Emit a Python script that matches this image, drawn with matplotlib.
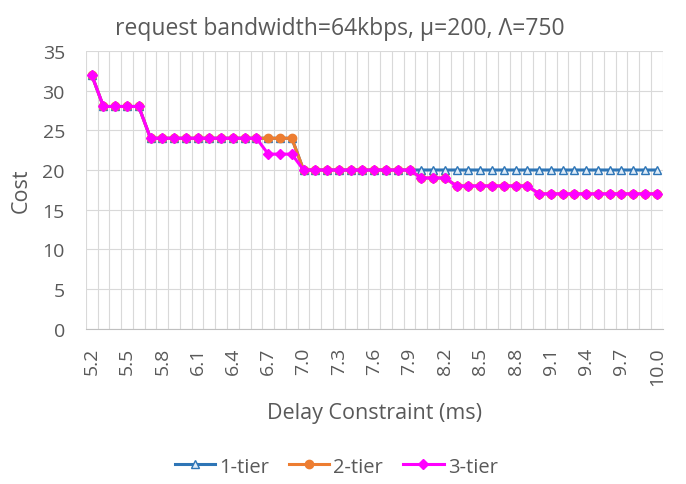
import matplotlib
matplotlib.use('Agg')
import matplotlib.pyplot as plt
import numpy as np

# categories: delay constraint (ms)
delay = ['5.2', '5.3', '5.4', '5.5', '5.6', '5.7', '5.8', '5.9', '6.0', '6.1',
         '6.2', '6.3', '6.4', '6.5', '6.6', '6.7', '6.8', '6.9', '7.0', '7.1',
         '7.2', '7.3', '7.4', '7.5', '7.6', '7.7', '7.8', '7.9', '8.0', '8.1',
         '8.2', '8.3', '8.4', '8.5', '8.6', '8.7', '8.8', '8.9', '9.0', '9.1',
         '9.2', '9.3', '9.4', '9.5', '9.6', '9.7', '9.8', '9.9', '10.0']

tier1 = [32, 28, 28, 28, 28, 24, 24, 24, 24, 24,
         24, 24, 24, 24, 24, 24, 24, 24, 20, 20,
         20, 20, 20, 20, 20, 20, 20, 20, 20, 20,
         20, 20, 20, 20, 20, 20, 20, 20, 20, 20,
         20, 20, 20, 20, 20, 20, 20, 20, 20]
tier2 = [32, 28, 28, 28, 28, 24, 24, 24, 24, 24,
         24, 24, 24, 24, 24, 24, 24, 24, 20, 20,
         20, 20, 20, 20, 20, 20, 20, 20, 19, 19,
         19, 18, 18, 18, 18, 18, 18, 18, 17, 17,
         17, 17, 17, 17, 17, 17, 17, 17, 17]
tier3 = [32, 28, 28, 28, 28, 24, 24, 24, 24, 24,
         24, 24, 24, 24, 24, 22, 22, 22, 20, 20,
         20, 20, 20, 20, 20, 20, 20, 20, 19, 19,
         19, 18, 18, 18, 18, 18, 18, 18, 17, 17,
         17, 17, 17, 17, 17, 17, 17, 17, 17]

yticks = [0, 5, 10, 15, 20, 25, 30, 35]

txt = '#595959'
plt.rcParams['font.family'] = ['Open Sans', 'DejaVu Sans']

fig = plt.figure(figsize=(6.86, 4.85), dpi=100)
ax = fig.add_axes([0.125, 0.32, 0.841, 0.573])

x = np.arange(len(delay))
ax.plot(x, tier1, '-', color='#2E75B6', lw=2.2, marker='^', ms=6,
        mfc='#DEEBF7', mec='#2E75B6', mew=1, label='1-tier')
ax.plot(x, tier2, '-', color='#ED7D31', lw=2.2, marker='o', ms=6,
        mfc='#ED7D31', mec='#ED7D31', label='2-tier')
ax.plot(x, tier3, '-', color='#FF00FF', lw=2.2, marker='D', ms=5.5,
        mfc='#FF00FF', mec='#FF00FF', label='3-tier')

ax.set_xlim(-0.5, len(delay) - 0.5)
ax.set_ylim(0, 35)
ax.set_yticks(yticks)
ax.set_xticks(x[::3])
ax.set_xticklabels(delay[::3], rotation=90)
ax.set_xticks(np.arange(-0.5, len(delay), 1), minor=True)
ax.tick_params(which='both', length=0, colors=txt, labelsize=14)
ax.tick_params(axis='x', pad=13)
ax.tick_params(axis='y', pad=15)
ax.grid(which='minor', axis='x', color='#D9D9D9', lw=0.8)
ax.grid(which='major', axis='y', color='#D9D9D9', lw=0.8)
ax.set_axisbelow(True)
for s in ['top', 'right', 'left']:
    ax.spines[s].set_visible(False)
ax.spines['bottom'].set_color('#BFBFBF')

ax.set_xlabel('Delay Constraint (ms)', fontsize=15.5, color=txt, labelpad=12)
ax.set_ylabel('Cost', fontsize=15.5, color=txt, labelpad=8)
fig.text(0.495, 0.94, 'request bandwidth=64kbps, \u03bc=200, \u039b=750',
         ha='center', va='center', fontsize=16.5, color=txt)

fig.legend(loc='lower center', bbox_to_anchor=(0.49, -0.022), ncol=3,
           frameon=False, fontsize=14.5, handlelength=2.0, columnspacing=1.0,
           handletextpad=0.2, labelcolor=txt)

fig.savefig('out.png', dpi=100)
